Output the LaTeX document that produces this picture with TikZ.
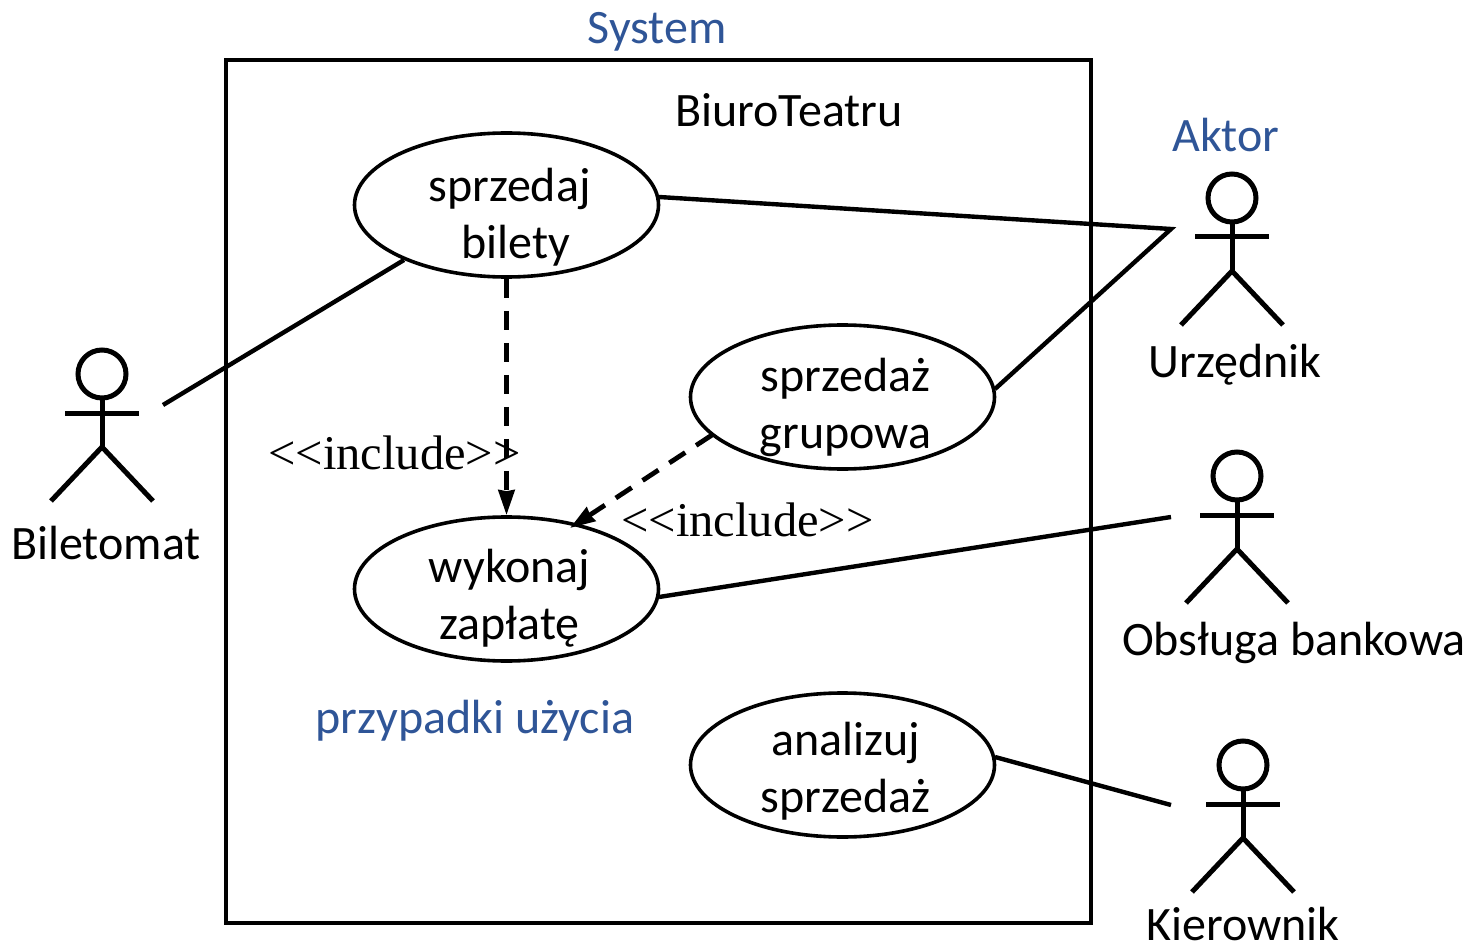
\documentclass[tikz,border=0pt]{standalone}
\usepackage{fontspec}
\setmainfont{Carlito}
\newfontfamily\timesf{Liberation Serif}
\usetikzlibrary{arrows.meta,shapes.geometric}
\definecolor{bluetxt}{HTML}{2F5597}
\newcommand{\uclines}[3]{\raisebox{#1pt}[0pt][0pt]{\begin{tabular}{@{}c@{}}#2\\#3\end{tabular}}}
\tikzset{
 x=1pt,y=-1pt,
 uc/.style={draw,line width=3.6pt,ellipse,minimum width=304pt,minimum height=144pt,inner sep=0pt,align=center,font=\fontsize{48}{57}\selectfont},
 lbl/.style={inner sep=0pt,font=\fontsize{48}{57}\selectfont},
 blu/.style={lbl,text=bluetxt},
 inc/.style={inner sep=0pt,font=\fontsize{48.5}{57}\timesf},
 assoc/.style={line width=4.4pt},
 dep/.style={line width=4.8pt,dash pattern=on 19pt off 13pt,-{Stealth[length=25pt,width=16pt,inset=1pt]}},
 actorline/.style={line width=5pt},
}
\newcommand{\actor}[2]{%
 \draw[actorline] (#1,#2) circle[radius=24];
 \draw[actorline] (#1,#2+24) -- (#1,#2+73);
 \draw[actorline] (#1-37,#2+39) -- (#1+37,#2+39);
 \draw[actorline] (#1-51,#2+127) -- (#1,#2+73) -- (#1+51,#2+127);
}
\begin{document}
\begin{tikzpicture}
\useasboundingbox (0,0) rectangle (1468,944);
\node[draw,line width=4pt,minimum width=865pt,minimum height=863pt,inner sep=0pt] (sys) at (658.5,491.5) {};
\node[blu] (tsys) at (657,32) {System};
\node[lbl] (tb) at (789,110) {BiuroTeatru};
\node[blu] (takt) at (1226,135) {Aktor};
\node[blu] (tuz) at (475,721) {przypadki użycia};
\node[uc] (a) at (506.5,205) {\uclines{-20}{\hspace*{6pt}sprzedaj}{\hspace*{18pt}bilety}};
\node[uc] (b) at (842.5,397) {\uclines{-18}{\hspace*{6pt}sprzedaż}{\hspace*{6pt}grupowa}};
\node[uc] (c) at (506.5,589) {\uclines{-17}{\hspace*{6pt}wykonaj}{\hspace*{6pt}zapłatę}};
\node[uc] (d) at (842.5,765) {\uclines{-14}{\hspace*{6pt}analizuj}{\hspace*{6pt}sprzedaż}};
\actor{102}{374}
\actor{1232}{198}
\actor{1237}{476}
\actor{1243}{765}
\node[lbl] (n1) at (106,543) {Biletomat};
\node[lbl] (n2) at (1235,365) {Urzędnik};
\node[lbl] (n3) at (1294,643) {Obsługa bankowa};
\node[lbl] (n4) at (1243,924) {Kierownik};
\coordinate (p1) at (163,405);
\coordinate (p2) at (1171,229);
\coordinate (p3) at (1171,517);
\coordinate (p4) at (1171,805);
\coordinate (a1) at (404,260);
\coordinate (a2) at (659,197);
\coordinate (b2) at (995,389);
\coordinate (c2) at (659,597);
\coordinate (d2) at (995,757);
\coordinate (b1) at (712,435);
\coordinate (c1) at (570,528);
\draw[assoc] (p1) -- (a1);
\draw[assoc] (a2) -- (p2) -- (b2);
\draw[assoc] (c2) -- (p3);
\draw[assoc] (d2) -- (p4);
\draw[dep] (a.south) -- (c.north);
\draw[dep] (b1) -- (c1);
\node[inc] (i1) at (394.5,453) {<<include>>};
\node[inc] (i2) at (747.5,520) {<<include>>};
\end{tikzpicture}
\end{document}
